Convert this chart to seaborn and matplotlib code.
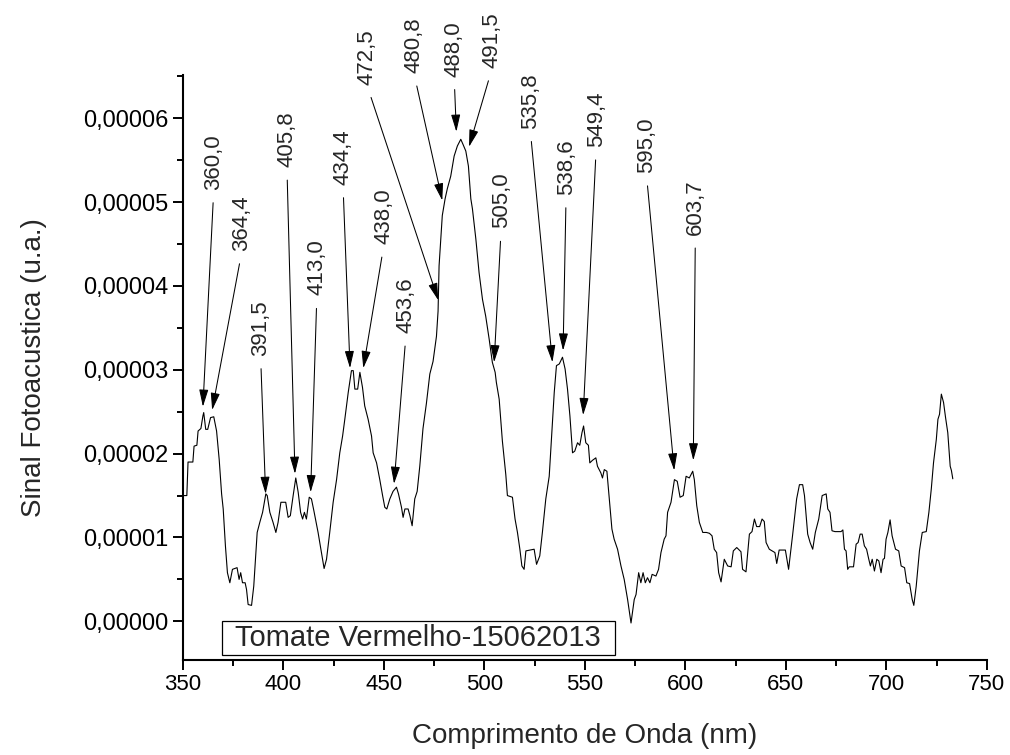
import matplotlib
matplotlib.use("Agg")
import matplotlib.pyplot as plt
import numpy as np
import seaborn as sns
from matplotlib.patches import Rectangle
from matplotlib.ticker import MultipleLocator, FuncFormatter

# photoacoustic spectrum, signal in units of 1e-5 (u.a.)
wavelength = [
    350.0, 352.0, 352.6, 355.0, 355.6, 357.0, 357.6, 359.0, 360.0, 360.4,
    361.4, 362.4, 363.8, 365.4, 366.8, 368.1, 369.3, 370.1, 371.2, 372.2,
    373.4, 374.7, 377.0, 378.0, 378.8, 379.7, 381.0, 381.7, 382.5, 384.2,
    385.3, 387.0, 388.3, 389.7, 391.3, 392.0, 393.3, 394.9, 396.3, 397.4,
    398.8, 401.2, 402.4, 403.5, 404.9, 406.2, 407.4, 408.6, 409.6, 410.5,
    411.5, 412.9, 414.0, 415.2, 416.5, 417.3, 419.0, 420.3, 421.5, 423.1,
    424.8, 426.5, 428.1, 429.5, 430.6, 432.3, 433.9, 434.8, 435.6, 437.0,
    438.1, 439.4, 440.5, 442.2, 443.9, 444.7, 446.4, 448.0, 449.4, 450.5,
    451.5, 453.0, 454.6, 456.3, 457.3, 458.8, 459.6, 460.5, 462.1, 463.0,
    464.1, 465.4, 466.6, 467.9, 469.5, 471.2, 472.9, 474.5, 476.2, 477.0,
    477.5, 479.1, 480.5, 481.6, 483.3, 485.0, 486.6, 488.3, 489.4, 490.8,
    492.1, 493.3, 494.1, 495.8, 497.4, 499.1, 500.7, 502.4, 504.0, 505.4,
    506.0, 507.4, 509.0, 510.7, 511.5, 514.0, 515.3, 516.5, 517.7, 518.7,
    519.8, 520.7, 524.8, 526.0, 527.6, 528.9, 530.6, 532.3, 533.6, 534.8,
    535.9, 537.3, 538.9, 540.2, 541.4, 542.6, 543.9, 545.0, 546.4, 547.5,
    548.6, 549.4, 550.5, 551.8, 552.5, 553.8, 555.5, 556.3, 558.0, 558.8,
    559.7, 561.0, 562.2, 563.5, 564.6, 566.3, 568.0, 569.6, 571.3, 573.0,
    574.6, 575.5, 576.8, 577.9, 579.0, 580.1, 581.2, 582.4, 583.5, 585.4,
    586.7, 587.9, 589.5, 590.4, 591.2, 592.9, 594.6, 596.0, 597.4, 599.0,
    600.4, 602.0, 603.7, 604.5, 605.7, 607.0, 608.7, 610.5, 612.0, 613.3,
    614.4, 615.6, 616.6, 617.8, 619.4, 621.1, 622.8, 623.9, 625.6, 627.7,
    628.5, 630.2, 631.9, 633.2, 634.4, 635.5, 637.0, 638.2, 639.3, 640.2,
    641.8, 644.6, 645.5, 646.7, 649.8, 651.4, 653.4, 655.4, 656.8, 658.4,
    659.3, 660.9, 662.1, 663.4, 664.7, 666.4, 668.1, 670.1, 670.9, 672.0,
    673.0, 674.5, 677.5, 678.4, 679.2, 680.0, 680.8, 681.6, 683.7, 685.0,
    686.0, 687.0, 688.0, 689.1, 690.2, 691.3, 692.1, 693.0, 694.1, 695.3,
    696.3, 697.4, 698.4, 699.1, 699.9, 700.8, 701.9, 702.9, 704.6, 706.2,
    707.4, 709.1, 710.2, 711.6, 712.9, 713.7, 714.9, 716.5, 717.9, 719.9,
    721.2, 722.4, 723.5, 724.9, 725.7, 726.5, 727.4, 728.5, 729.5, 730.6,
    731.8, 732.4, 733.1,
]
signal = [
    1.50, 1.50, 1.90, 1.90, 2.09, 2.10, 2.27, 2.30, 2.45, 2.49,
    2.29, 2.29, 2.43, 2.44, 2.27, 1.93, 1.52, 1.34, 0.90, 0.58,
    0.46, 0.62, 0.64, 0.50, 0.58, 0.46, 0.46, 0.38, 0.20, 0.19,
    0.42, 1.06, 1.18, 1.30, 1.52, 1.50, 1.30, 1.18, 1.06, 1.18,
    1.42, 1.42, 1.24, 1.26, 1.50, 1.71, 1.54, 1.30, 1.22, 1.30,
    1.22, 1.48, 1.46, 1.32, 1.16, 1.06, 0.82, 0.63, 0.74, 1.06,
    1.42, 1.69, 2.01, 2.21, 2.41, 2.73, 2.99, 2.99, 2.77, 2.77,
    2.97, 2.79, 2.57, 2.41, 2.21, 2.01, 1.89, 1.69, 1.50, 1.36,
    1.34, 1.46, 1.55, 1.60, 1.52, 1.36, 1.24, 1.34, 1.34, 1.26,
    1.14, 1.46, 1.55, 1.85, 2.30, 2.60, 2.95, 3.10, 3.40, 3.70,
    4.24, 4.84, 5.04, 5.16, 5.31, 5.55, 5.67, 5.75, 5.69, 5.61,
    5.43, 5.04, 4.92, 4.56, 4.16, 3.84, 3.64, 3.37, 3.09, 2.97,
    2.85, 2.65, 2.15, 1.75, 1.50, 1.48, 1.22, 1.06, 0.86, 0.66,
    0.62, 0.84, 0.86, 0.68, 0.78, 1.06, 1.46, 1.73, 2.25, 2.73,
    3.05, 3.07, 3.15, 3.01, 2.77, 2.45, 2.01, 2.03, 2.13, 2.10,
    2.25, 2.33, 2.13, 2.10, 1.89, 1.92, 1.95, 1.85, 1.77, 1.71,
    1.81, 1.79, 1.46, 1.10, 0.98, 0.86, 0.66, 0.50, 0.26, -0.02,
    0.26, 0.32, 0.58, 0.46, 0.58, 0.46, 0.52, 0.46, 0.56, 0.54,
    0.62, 0.82, 0.98, 1.02, 1.30, 1.42, 1.69, 1.67, 1.48, 1.50,
    1.73, 1.71, 1.79, 1.69, 1.38, 1.18, 1.06, 1.06, 1.05, 1.02,
    0.86, 0.82, 0.58, 0.47, 0.74, 0.66, 0.65, 0.84, 0.88, 0.83,
    0.62, 0.59, 1.04, 1.07, 1.22, 1.13, 1.13, 1.22, 1.19, 0.94,
    0.86, 0.82, 0.69, 0.85, 0.85, 0.62, 1.03, 1.46, 1.63, 1.63,
    1.50, 1.04, 0.94, 0.86, 1.06, 1.22, 1.50, 1.52, 1.34, 1.30,
    1.08, 1.07, 1.07, 1.09, 0.86, 0.84, 0.62, 0.65, 0.65, 0.92,
    0.94, 1.04, 1.04, 0.90, 0.86, 0.74, 0.66, 0.74, 0.60, 0.74,
    0.72, 0.58, 0.74, 0.75, 0.98, 1.06, 1.21, 1.02, 0.86, 0.84,
    0.66, 0.64, 0.46, 0.45, 0.26, 0.19, 0.42, 0.84, 1.06, 1.07,
    1.30, 1.58, 1.89, 2.17, 2.41, 2.47, 2.71, 2.61, 2.43, 2.25,
    1.85, 1.80, 1.70,
]

# annotated peaks: label text and the point the arrow points at
peak_labels = ["360,0", "364,4", "391,5", "405,8", "413,0", "434,4",
               "438,0", "453,6", "472,5", "480,8", "488,0", "491,5",
               "505,0", "535,8", "538,6", "549,4", "595,0", "603,7"]
peak_x = [360.0, 364.6, 391.2, 405.8, 413.6, 433.2, 439.8, 455.1, 477.1,
          479.1, 486.1, 492.4, 504.9, 533.9, 539.2, 549.2, 594.5, 604.0]
peak_y = [2.56, 2.52, 1.52, 1.76, 1.54, 3.02, 3.02, 1.64, 3.83,
          5.02, 5.84, 5.66, 3.09, 3.09, 3.23, 2.46, 1.80, 1.92]

# where each rotated label sits (data coords)
text_x = [365.4, 379.4, 388.7, 401.8, 416.7, 429.7, 450.1, 461.1, 441.6,
          465.0, 485.0, 503.9, 508.4, 522.8, 540.7, 555.7, 580.6, 605.0]
text_y = [5.48, 4.75, 3.50, 5.75, 4.22, 5.54, 4.83, 3.77, 6.73,
          6.87, 6.83, 6.93, 5.02, 6.21, 5.42, 5.99, 5.68, 4.94]

scale = 1e-5
sig = np.array(signal) * scale

sns.set_theme(style="ticks")
plt.rcParams['font.family'] = ['Liberation Sans', 'DejaVu Sans']

fig = plt.figure(figsize=(10.1, 7.55), dpi=100)
ax = fig.add_axes([0.181, 0.126, 0.796, 0.775])

sns.lineplot(x=wavelength, y=sig, color='black', linewidth=0.8,
             estimator=None, sort=False, ax=ax)

for lab, px, py, tx, ty in zip(peak_labels, peak_x, peak_y, text_x, text_y):
    ax.annotate(lab, xy=(px, py * scale), xytext=(tx, ty * scale),
                textcoords='data', rotation=90, ha='center', va='center',
                fontsize=16, annotation_clip=False,
                arrowprops=dict(arrowstyle='-|>,head_length=0.75,head_width=0.2',
                                color='black', lw=0.75, mutation_scale=14,
                                relpos=(0.5, 0.0), shrinkA=7, shrinkB=0))

# sample name box
ax.add_patch(Rectangle((0.0485, 0.009), 0.4885, 0.058, transform=ax.transAxes,
                       facecolor='white', edgecolor='black', linewidth=0.9,
                       zorder=3))
ax.text(0.2925, 0.038, "Tomate Vermelho-15062013", transform=ax.transAxes,
        ha='center', va='center', fontsize=21, zorder=4)

ax.set_xlim(350, 750)
ax.set_ylim(-0.46 * scale, 6.52 * scale)
ax.xaxis.set_major_locator(MultipleLocator(50))
ax.xaxis.set_minor_locator(MultipleLocator(25))
ax.yaxis.set_major_locator(MultipleLocator(1e-5))
ax.yaxis.set_minor_locator(MultipleLocator(0.5e-5))


def comma_fmt(v, pos):
    if abs(v) < 1e-12:
        v = 0.0
    return f"{v:.5f}".replace('.', ',')


ax.yaxis.set_major_formatter(FuncFormatter(comma_fmt))
ax.tick_params(axis='both', which='major', direction='out', length=7,
               width=1.4, labelsize=16, color='black', labelcolor='black')
ax.tick_params(axis='y', which='major', labelsize=17)
ax.tick_params(axis='both', which='minor', direction='out', length=4,
               width=1.4, color='black')

for side in ['top', 'right']:
    ax.spines[side].set_visible(False)
for side in ['left', 'bottom']:
    ax.spines[side].set_linewidth(1.5)
    ax.spines[side].set_color('black')

ax.set_xlabel("Comprimento de Onda (nm)", fontsize=20, labelpad=20)
ax.set_ylabel("Sinal Fotoacustica (u.a.)", fontsize=20, labelpad=26)
ax.set_facecolor('white')
fig.patch.set_facecolor('white')

fig.savefig("out.png", dpi=100)
